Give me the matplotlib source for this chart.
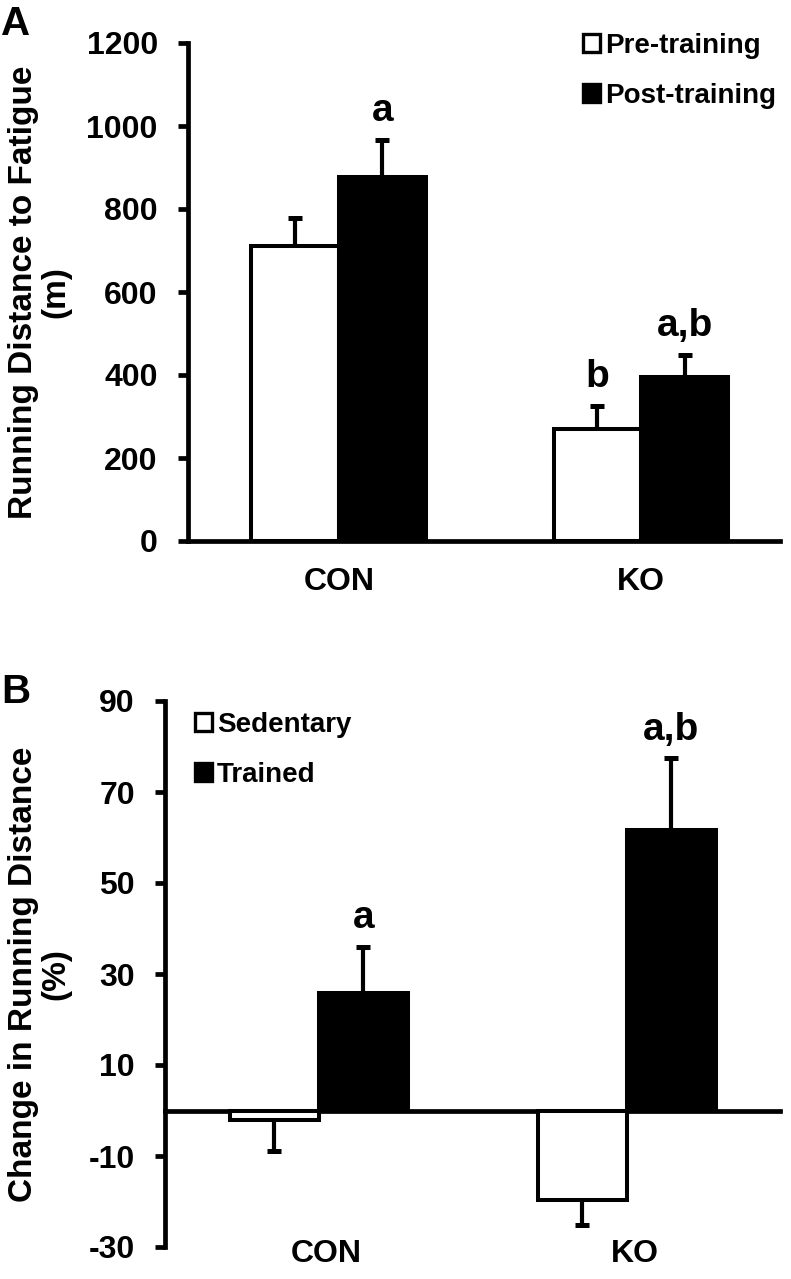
import matplotlib
matplotlib.use("Agg")
import matplotlib.pyplot as plt
from matplotlib.patches import Patch
import numpy as np

plt.rcParams['font.family'] = ['Liberation Sans', 'DejaVu Sans']
plt.rcParams['font.weight'] = 'bold'
plt.rcParams['axes.unicode_minus'] = False

# ---- data ----
groups = ['CON', 'KO']
pre = [712, 270]
pre_err = [66, 56]
post = [878, 395]
post_err = [89, 53]
pre_post_labels = ['', 'b']
post_labels = ['a', 'a,b']

sed = [-2.0, -19.7]
sed_err = [7.0, 5.5]
trained = [25.8, 61.6]
trained_err = [10.1, 15.8]
trained_labels = ['a', 'a,b']

yticksA = [0, 200, 400, 600, 800, 1000, 1200]
yticksB = [-30, -10, 10, 30, 50, 70, 90]

W, H = 791, 1279
fig = plt.figure(figsize=(W / 100, H / 100), dpi=100)

axA = fig.add_axes([188 / W, 1 - 541 / H, (780 - 188) / W, (541 - 43) / H])
axB = fig.add_axes([165 / W, 1 - 1247 / H, (780 - 165) / W, (1247 - 701) / H])

bw = 0.289
edge_lw = 2.9
err_kw = dict(fmt='none', ecolor='black', elinewidth=3.0, capsize=4.8, capthick=3.6, zorder=4)
ann_fs = 28
tick_fs = 23

def style_axes(ax):
    for s in ['top', 'right']:
        ax.spines[s].set_visible(False)
    for s in ['left', 'bottom']:
        ax.spines[s].set_linewidth(3.4)
        ax.spines[s].set_color('black')
    ax.tick_params(axis='y', length=7.2, width=3.4, pad=14.5, labelsize=tick_fs, direction='out')
    ax.set_facecolor('none')

def one_sided_err(ax, xs, vals, errs, upward=True):
    vals = np.asarray(vals, float)
    errs = np.asarray(errs, float)
    z = np.zeros_like(errs)
    yerr = [z, errs] if upward else [errs, z]
    _, caps, _ = ax.errorbar(xs, vals, yerr=yerr, **err_kw)
    for cl in caps:
        if np.allclose(cl.get_ydata(), vals):
            cl.set_visible(False)

def annotate(ax, x, y, txt):
    if txt:
        ax.annotate(txt, xy=(x, y), xytext=(0, 13.5), textcoords='offset points',
                    ha='center', va='baseline', fontsize=ann_fs, fontweight='bold')

# ---- Panel A ----
x = np.arange(len(groups))
style_axes(axA)
xa_pre = x - bw / 2
xa_post = x + bw / 2
axA.bar(xa_pre, pre, width=bw, color='white', edgecolor='black', linewidth=edge_lw, zorder=3)
axA.bar(xa_post, post, width=bw, color='black', edgecolor='black', linewidth=edge_lw, zorder=3)
one_sided_err(axA, xa_pre, pre, pre_err)
one_sided_err(axA, xa_post, post, post_err)
for i in range(len(groups)):
    annotate(axA, xa_pre[i], pre[i] + pre_err[i], pre_post_labels[i])
    annotate(axA, xa_post[i], post[i] + post_err[i], post_labels[i])
axA.set_xlim(-0.499, 1.46)
axA.set_ylim(0, 1200)
axA.set_yticks(yticksA)
axA.set_xticks(x)
axA.set_xticklabels(groups, fontsize=tick_fs, fontweight='bold')
axA.tick_params(axis='x', length=0, pad=19)
axA.spines['left'].set_bounds(0, 1200)

axA.legend(handles=[Patch(facecolor='white', edgecolor='black', linewidth=2.4),
                    Patch(facecolor='black', edgecolor='black', linewidth=2.4)],
           labels=['Pre-training', 'Post-training'],
           loc='upper left', bbox_to_anchor=(583 / W, 1 - 33 / H), bbox_transform=fig.transFigure,
           frameon=False, handlelength=0.6, handleheight=0.6, handletextpad=0.2,
           labelspacing=0.85, borderpad=0, borderaxespad=0,
           prop={'size': 20, 'weight': 'bold'})

fig.text(40 / W, 1 - 292 / H, 'Running Distance to Fatigue\n(m)', rotation=90, ha='center', va='center',
         multialignment='center', fontsize=24, fontweight='bold', linespacing=1.05)
fig.text(16 / W, 1 - 24 / H, 'A', ha='center', va='center', fontsize=29, fontweight='bold')

# ---- Panel B ----
style_axes(axB)
axB.spines['bottom'].set_position(('data', 0))
xb_sed = x - bw / 2
xb_tr = x + bw / 2
axB.bar(xb_sed, sed, width=bw, color='white', edgecolor='black', linewidth=edge_lw, zorder=3)
axB.bar(xb_tr, trained, width=bw, color='black', edgecolor='black', linewidth=edge_lw, zorder=3)
one_sided_err(axB, xb_sed, sed, sed_err, upward=False)
one_sided_err(axB, xb_tr, trained, trained_err)
for i in range(len(groups)):
    annotate(axB, xb_tr[i], trained[i] + trained_err[i], trained_labels[i])
axB.set_xlim(-0.5, 1.497)
axB.set_ylim(-30, 90)
axB.set_yticks(yticksB)
axB.set_xticks([])
for i, g in enumerate(groups):
    axB.text(x[i] + 0.025, -0.013, g, transform=axB.get_xaxis_transform(), ha='center', va='center',
             fontsize=tick_fs, fontweight='bold')

axB.legend(handles=[Patch(facecolor='white', edgecolor='black', linewidth=2.4),
                    Patch(facecolor='black', edgecolor='black', linewidth=2.4)],
           labels=['Sedentary', 'Trained'],
           loc='upper left', bbox_to_anchor=(195 / W, 1 - 712 / H), bbox_transform=fig.transFigure,
           frameon=False, handlelength=0.6, handleheight=0.6, handletextpad=0.2,
           labelspacing=0.85, borderpad=0, borderaxespad=0,
           prop={'size': 20, 'weight': 'bold'})

fig.text(40 / W, 1 - 974 / H, 'Change in Running Distance\n(%)', rotation=90, ha='center', va='center',
         multialignment='center', fontsize=24, fontweight='bold', linespacing=1.05)
fig.text(16 / W, 1 - 692 / H, 'B', ha='center', va='center', fontsize=29, fontweight='bold')

fig.savefig('out.png', dpi=100, facecolor='white')
